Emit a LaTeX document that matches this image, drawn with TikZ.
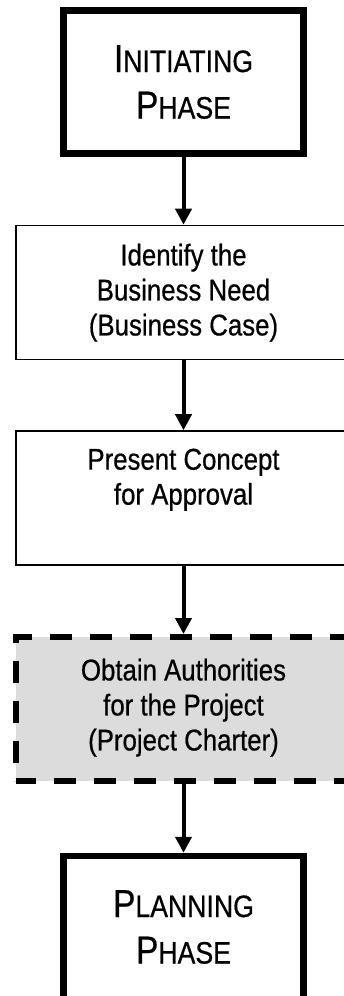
\documentclass[tikz,border=0pt]{standalone}
\usepackage{fontspec}
\setmainfont[FakeStretch=0.86, FakeBold=0.6]{Liberation Sans}
\usetikzlibrary{arrows.meta}
\definecolor{boxgray}{HTML}{DCDCDC}
\newcommand\fakesc[2]{{\fontsize{39}{46}\selectfont #1}{\fontsize{31}{46}\selectfont #2}}
\tikzset{
  phasebox/.style={draw, line width=6.5pt, rectangle, inner sep=0pt,
    minimum width=240pt, minimum height=143pt},
  procbox/.style={draw, line width=1.6pt, rectangle, inner sep=0pt,
    minimum width=335.5pt, minimum height=134pt},
  dashbox/.style={draw, line width=6pt, rectangle, inner sep=0pt, fill=boxgray,
    dash pattern=on 22pt off 18pt, dash phase=2pt,
    minimum width=335pt, minimum height=144pt},
  steptext/.style={align=center, inner sep=0pt, anchor=north,
    font=\fontsize{30}{35}\selectfont},
  phasetext/.style={align=center, inner sep=0pt, anchor=north,
    font=\fontsize{31}{46.5}\selectfont},
  flow/.style={line width=4pt, -{Triangle[length=16pt, width=16pt]}}
}
\begin{document}
\begin{tikzpicture}[x=1pt, y=-1pt]
\useasboundingbox (0,0) rectangle (344,996);
\clip (0,0) rectangle (344,996);
\fill[white] (0,0) rectangle (344,996);
% boxes
\node[phasebox] (init) at (183.5,82) {};
\node[procbox] (need) at (183.5,292.5) {};
\node[procbox] (concept) at (183.5,498) {};
\node[dashbox] (auth) at (183.5,709) {};
\node[phasebox] (plan) at (183.5,927.5) {};
% texts
\node[phasetext] (initT) at (183.5,45) {\fakesc{I}{NITIATING}\\\fakesc{P}{HASE}};
\node[steptext] (needT) at (183.5,243.5) {Identify the\\Business Need\\(Business Case)};
\node[steptext] (conceptT) at (183.5,448.5) {Present Concept\\for Approval};
\node[steptext] (authT) at (183.5,658.5) {Obtain Authorities\\for the Project\\(Project Charter)};
\node[phasetext] (planT) at (183.5,890) {\fakesc{P}{LANNING}\\\fakesc{P}{HASE}};
% connectors
\draw[flow] (init) -- (need);
\draw[flow] (need) -- (concept);
\draw[flow] (concept) -- (auth);
\draw[flow] (auth) -- (plan);
\end{tikzpicture}
\end{document}
